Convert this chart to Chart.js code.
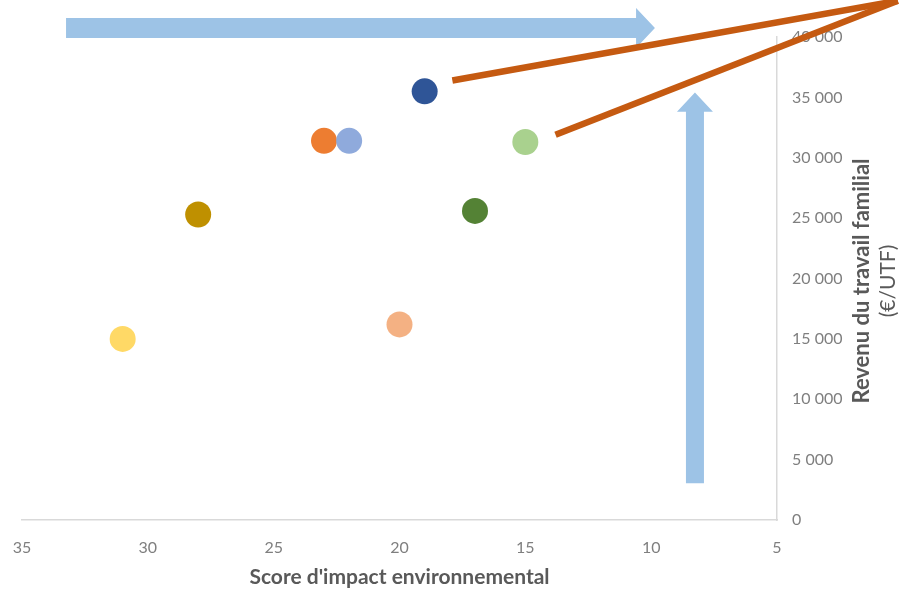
<!DOCTYPE html>
<html>
<head>
<meta charset="utf-8">
<script src="https://cdn.jsdelivr.net/npm/chart.js@4"></script>
<style>
  html, body { margin: 0; padding: 0; background: #fff; }
  #wrap { width: 900px; height: 589px; }
</style>
</head>
<body>
<div id="wrap"><canvas id="scoreChart"></canvas></div>
<script>
// Données
const scores = [19, 23, 22, 15, 28, 17, 31, 20];
const revenus = [35500, 31400, 31400, 31300, 25300, 25600, 15000, 16200];
const couleurs = ['#2F5597', '#ED7D31', '#8FAADC', '#A9D18E', '#BF9000', '#548235', '#FFD966', '#F4B183'];
const xTicks = [35, 30, 25, 20, 15, 10, 5];
const yTicks = [0, 5000, 10000, 15000, 20000, 25000, 30000, 35000, 40000];

// Flèches et traits (en unités des axes)
const flecheH = { from: [33.25, 40750], base: [10.6, 40750], tip: [9.85, 40750] };
const flecheV = { from: [8.26, 3050], base: [8.26, 33800], tip: [8.26, 35400] };
const traits = [
    { from: [17.9, 36400], to: [0.2, 43000] },
    { from: [13.8, 31900], to: [0.2, 43000] }
];

const points = scores.map((s, i) => ({ x: s, y: revenus[i] }));

const fmt = v => String(v).replace(/\B(?=(\d{3})+(?!\d))/g, ' ');

// Dessine les flèches, les traits et le titre de l'axe vertical
const decor = {
    id: 'decor',
    beforeDatasetsDraw(chart) {
        const c = chart.ctx, xs = chart.scales.x, ys = chart.scales.y;
        const px = p => [xs.getPixelForValue(p[0]), ys.getPixelForValue(p[1])];
        c.save();
        c.fillStyle = '#9DC3E6';
        // flèche horizontale
        let a = px(flecheH.from), b = px(flecheH.base), t = px(flecheH.tip);
        c.beginPath();
        c.moveTo(a[0], a[1] - 10); c.lineTo(b[0], b[1] - 10); c.lineTo(b[0], b[1] - 20);
        c.lineTo(t[0], t[1]); c.lineTo(b[0], b[1] + 20); c.lineTo(b[0], b[1] + 10);
        c.lineTo(a[0], a[1] + 10); c.closePath(); c.fill();
        // flèche verticale
        a = px(flecheV.from); b = px(flecheV.base); t = px(flecheV.tip);
        c.beginPath();
        c.moveTo(a[0] - 9, a[1]); c.lineTo(b[0] - 9, b[1]); c.lineTo(b[0] - 18, b[1]);
        c.lineTo(t[0], t[1]); c.lineTo(b[0] + 18, b[1]); c.lineTo(b[0] + 9, b[1]);
        c.lineTo(a[0] + 9, a[1]); c.closePath(); c.fill();
        c.restore();
    },
    afterDraw(chart) {
        const c = chart.ctx, xs = chart.scales.x, ys = chart.scales.y;
        const px = p => [xs.getPixelForValue(p[0]), ys.getPixelForValue(p[1])];
        c.save();
        c.strokeStyle = '#C55A11';
        c.lineWidth = 6.5;
        traits.forEach(tr => {
            const a = px(tr.from), b = px(tr.to);
            c.beginPath(); c.moveTo(a[0], a[1]); c.lineTo(b[0], b[1]); c.stroke();
        });
        // titre de l'axe Y, lu de bas en haut
        c.translate(862, 281);
        c.rotate(-Math.PI / 2);
        c.textAlign = 'center';
        c.textBaseline = 'middle';
        c.fillStyle = '#595959';
        c.font = 'bold 22px Lato';
        c.fillText('Revenu du travail familial', 0, 0);
        c.font = '21px Lato';
        c.fillText('(€/UTF)', 0, 26);
        c.restore();
    }
};

const ctx = document.getElementById('scoreChart').getContext('2d');

const scoreChart = new Chart(ctx, {
    type: 'scatter',
    data: {
        datasets: [{
            data: points,
            backgroundColor: couleurs,
            borderWidth: 0,
            pointRadius: 13,
            pointHoverRadius: 13
        }]
    },
    options: {
        responsive: true,
        maintainAspectRatio: false,
        animation: false,
        clip: false,
        layout: { padding: { left: 22, top: 37, right: 0, bottom: 0 } },
        plugins: {
            legend: { display: false },
            tooltip: { enabled: false }
        },
        scales: {
            x: {
                type: 'linear',
                reverse: true,
                min: 5,
                max: 35,
                afterBuildTicks: s => { s.ticks = xTicks.map(v => ({ value: v })); },
                afterFit: s => { s.height = 69; s.paddingLeft = 0; },
                grid: { display: false, drawTicks: false },
                border: { display: true, color: '#D9D9D9', width: 1.5 },
                ticks: {
                    color: '#7F7F7F',
                    font: { family: 'Lato', size: 16 },
                    padding: 18
                },
                title: {
                    display: true,
                    text: "Score d'impact environnemental",
                    color: '#595959',
                    font: { family: 'Lato', size: 21, weight: 'bold' },
                    padding: { top: 4, bottom: -1 }
                }
            },
            y: {
                type: 'linear',
                position: 'right',
                min: 0,
                max: 40000,
                afterBuildTicks: s => { s.ticks = yTicks.map(v => ({ value: v })); },
                afterFit: s => { s.width = 123; },
                grid: { display: false, drawTicks: false },
                border: { display: true, color: '#D9D9D9', width: 1.5 },
                ticks: {
                    color: '#7F7F7F',
                    font: { family: 'Lato', size: 16 },
                    padding: 15,
                    callback: v => fmt(v)
                }
            }
        }
    },
    plugins: [decor]
});
</script>
</body>
</html>
